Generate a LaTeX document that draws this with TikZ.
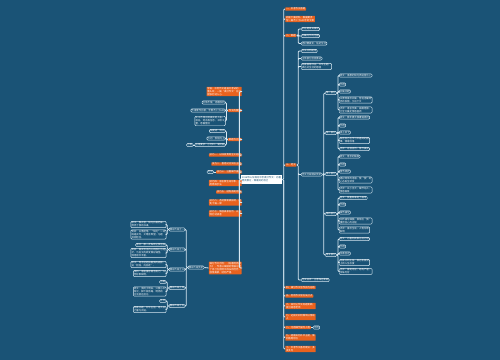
\documentclass[tikz,border=0pt]{standalone}
\usepackage{fontspec}
\newfontfamily\cjk{Noto Sans CJK SC}
\usepackage{tikz}
\definecolor{mmbg}{RGB}{26,83,118}
\definecolor{mmorange}{RGB}{232,98,30}
\definecolor{mmline}{RGB}{215,232,242}

\begin{document}
\begin{tikzpicture}[x=0.75pt,y=-0.75pt,
 every node/.style={font=\cjk\fontsize{1.8}{2.3}\selectfont,align=left,inner xsep=0.6pt,inner ysep=0.4pt},
 obox/.style={fill=mmorange,text=white,rounded corners=0.4pt},
 lbox/.style={draw=mmline,line width=0.35pt,fill=mmbg,text=white,rounded corners=0.8pt},
 topic/.style={fill=white,text=mmbg,inner xsep=1pt,inner ysep=1.1pt},
 link/.style={draw=mmline,line width=0.6pt,rounded corners=0.8pt}]
\fill[mmbg] (0,0) rectangle (500,360);
\useasboundingbox (0,0) rectangle (500,360);

\node[topic,anchor=east] (top) at (282.5,179.5) {2018年山东潍坊中考满分作文：向着\\明亮那方，做最好的自己};

% right side
\node[obox,anchor=west] (r1) at (285,9) {一、中考作文原题};
\node[obox,anchor=west] (r2) at (285,19) {阅读下面材料，根据要求\\写一篇不少于600字的文章};
\node[obox,anchor=west] (r3) at (285,35.5) {二、审题};
\node[lbox,anchor=west] (r3a) at (301,29) {抓住题目关键词};
\node[lbox,anchor=west] (r3b) at (301,36) {明确写作的范围};
\node[lbox,anchor=west] (r3c) at (301,43.5) {选材要真实，贴近生活};
\node[obox,anchor=west] (r4) at (285,165) {三、范文};
\node[lbox,anchor=west] (r4a) at (301,51) {开头点明题意};
\node[lbox,anchor=west] (r4b) at (301,58.5) {主体部分层层推进};
\node[lbox,anchor=west] (r4c) at (301,66.5) {结尾首尾呼应，升华主题，\\表达对生活的感悟};
\node[lbox,anchor=west] (r4d) at (301,174.5) {范文分段精彩赏析};
\node[lbox,anchor=west] (r4e) at (301,280) {范文总评：立意深远新颖};

\node[lbox,anchor=west] (p1) at (325,93) {第一部分};
\node[lbox,anchor=west] (p1a) at (339,75.5) {原文：清晨的阳光洒进窗台上};
\node[lbox,anchor=west] (p1b) at (339,84.5) {作用};
\node[lbox,anchor=west] (p1c) at (339,91.5) {开篇点题};
\node[lbox,anchor=west] (p1d) at (339,100) {以景物描写开篇，营造温暖明\\亮的氛围，引出下文};
\node[lbox,anchor=west] (p1e) at (339,110) {点评：语言优美，画面感强，\\为全文奠定情感基调};

\node[lbox,anchor=west] (p2) at (325,133) {第二部分};
\node[lbox,anchor=west] (p2a) at (339,117.5) {原文：那年夏天我遭遇挫折};
\node[lbox,anchor=west] (p2b) at (339,125.5) {作用};
\node[lbox,anchor=west] (p2c) at (339,132.5) {承上启下};
\node[lbox,anchor=west] (p2d) at (339,140.5) {叙述自己在学习中遇到的困\\难，情绪低落};
\node[lbox,anchor=west] (p2e) at (339,149) {点评：过渡自然，情节真实};

\node[lbox,anchor=west] (p3) at (325,174) {第三部分};
\node[lbox,anchor=west] (p3a) at (339,156.5) {原文：母亲的鼓励};
\node[lbox,anchor=west] (p3b) at (339,164.5) {作用};
\node[lbox,anchor=west] (p3c) at (339,171.5) {情节转折};
\node[lbox,anchor=west] (p3d) at (339,180) {通过母亲的话语，使“我”的\\心态发生转变};
\node[lbox,anchor=west] (p3e) at (339,190) {点评：以小见大，细节动人，\\情感真挚};

\node[lbox,anchor=west] (p4) at (325,214) {第四部分};
\node[lbox,anchor=west] (p4a) at (339,198) {原文：我重新拿起了画笔};
\node[lbox,anchor=west] (p4b) at (339,204.5) {作用};
\node[lbox,anchor=west] (p4c) at (339,212.5) {细节描写};
\node[lbox,anchor=west] (p4d) at (339,221) {动作描写细腻，表现出“我”\\重拾信心的过程};
\node[lbox,anchor=west] (p4e) at (339,230) {点评：描写生动，人物形象\\鲜明};

\node[lbox,anchor=west] (p5) at (325,255) {第五部分};
\node[lbox,anchor=west] (p5a) at (339,239) {原文：向着明亮那方前行吧};
\node[lbox,anchor=west] (p5b) at (339,246.5) {作用};
\node[lbox,anchor=west] (p5c) at (339,253.5) {卒章显志};
\node[lbox,anchor=west] (p5d) at (339,262.5) {结尾点明主旨，表达积极向\\上的人生态度};
\node[lbox,anchor=west] (p5e) at (339,271.5) {点评：首尾呼应，结构严谨，\\余味无穷};

\node[obox,anchor=west] (r5) at (285,287.5) {四、满分作文写作技巧总结};
\node[obox,anchor=west] (r6) at (285,296) {五、考场作文常见失分点};
\node[obox,anchor=west] (r7) at (285,306) {六、如何让作文标题新颖，\\吸引阅卷老师};
\node[obox,anchor=west] (r8) at (285,317) {七、记叙文如何做到以情动\\人};
\node[obox,anchor=west] (r9) at (285,327.5) {八、巧用细节描写人物};
\node[lbox,anchor=west] (r9a) at (313,327.5) {范例};
\node[obox,anchor=west] (r10) at (285,337.5) {九、结尾如何升华主题，做\\到首尾呼应};
\node[obox,anchor=west] (r11) at (285,349) {十、中考作文备考建议：多\\读多写};

% left side
\node[obox,anchor=east] (l1) at (242,91.5) {导语：中考作文是语文考试的\\重头戏，一篇“满分作文”往往\\能够打动人心。};
\node[obox,anchor=east] (l2) at (242,110.5) {作文的要求};
\node[lbox,anchor=east] (l2a) at (225.5,102.5) {文体不限，诗歌除外};
\node[lbox,anchor=east] (l2b) at (225.5,110.5) {不得套作抄袭，字数不少于600};
\node[lbox,anchor=east] (l2c) at (225.5,121) {文中不得出现真实的人名、\\校名、地名等信息，书写工\\整，卷面整洁};
\node[obox,anchor=east] (l3) at (242,139.5) {审题与立意};
\node[lbox,anchor=east] (l3a) at (225.5,131) {关键词：明亮};
\node[lbox,anchor=east] (l3b) at (225.5,138.5) {方向：积极向上};
\node[lbox,anchor=east] (l3c) at (225.5,145) {立意要求：小切口，深挖掘};
\node[lbox,anchor=east] (l3d) at (193.3,145) {示例};
\node[obox,anchor=east] (l4) at (242,155) {技巧一：以线索贯穿全文始终};
\node[obox,anchor=east] (l5) at (242,164) {技巧二：善用对比突出主题};
\node[obox,anchor=east] (l6) at (242,172) {技巧三：注重细节描写};
\node[lbox,anchor=east] (l6a) at (213.8,172) {范例};
\node[obox,anchor=east] (l7) at (242,183) {技巧四：语言要生动形象，多\\用修辞手法};
\node[obox,anchor=east] (l8) at (242,192) {技巧五：结构首尾呼应};
\node[obox,anchor=east] (l9) at (242,202.5) {技巧六：选材要新颖独特，避\\免千篇一律};
\node[obox,anchor=east] (l10) at (242,213.5) {技巧七：情感真挚自然，以真\\情打动读者};
\node[obox,anchor=east] (l11) at (242,268) {满分作文示例：《向着明亮那\\方》，作者以细腻的笔触记录\\了自己在困境中成长的经历，\\感情真挚，结构严谨。};
\node[lbox,anchor=east] (l11a) at (204.3,267.5) {精彩片段赏析};

\node[lbox,anchor=east] (q1) at (185.3,229.5) {精彩片段之一};
\node[lbox,anchor=east] (q1a) at (166.3,224.5) {原文：推开窗，阳光扑面而来，\\照亮了我的书桌。};
\node[lbox,anchor=east] (q1b) at (166.3,234.5) {赏析：以景起笔，“阳光”一词\\既是实写，又暗含希望，与题\\目相呼应。};
\node[lbox,anchor=east] (q2) at (185.3,249.5) {精彩片段之二};
\node[lbox,anchor=east] (q2a) at (166.3,245) {原文：那一次失败让我沮丧};
\node[lbox,anchor=east] (q2b) at (166.3,253) {赏析：真实写出内心的挣扎与迷\\茫，为后文的转变做好铺垫，\\情感层次丰富。};
\node[lbox,anchor=east] (q3) at (185.3,269.5) {精彩片段之三};
\node[lbox,anchor=east] (q3a) at (166.3,264.5) {原文：母亲轻轻拍着我的肩膀，\\说“别怕，向前走”。};
\node[lbox,anchor=east] (q3b) at (166.3,273.5) {赏析：语言描写简洁有力，人\\物形象鲜明。};
\node[lbox,anchor=east] (q4) at (185.3,288) {精彩片段之四};
\node[lbox,anchor=east] (q4a) at (166.3,282) {点题};
\node[lbox,anchor=east] (q4b) at (166.3,291.5) {原文：我终于明白，只要心中\\有光，脚下就有路，明亮的\\方向就在前方。};
\node[lbox,anchor=east] (q5) at (185.3,306) {精彩片段之五};
\node[lbox,anchor=east] (q5a) at (166.3,301) {升华};
\node[lbox,anchor=east] (q5b) at (166.3,309.5) {结尾点题，升华主旨，给人以\\力量与启迪。};

% connectors
\draw[link] (top.east) -- ++(1.2,0) |- (r1.west) (top.east) -- ++(1.2,0) |- (r2.west) (top.east) -- ++(1.2,0) |- (r3.west) (top.east) -- ++(1.2,0) |- (r4.west);
\draw[link] (top.east) -- ++(1.2,0) |- (r5.west) (top.east) -- ++(1.2,0) |- (r6.west) (top.east) -- ++(1.2,0) |- (r7.west) (top.east) -- ++(1.2,0) |- (r8.west);
\draw[link] (top.east) -- ++(1.2,0) |- (r9.west) (top.east) -- ++(1.2,0) |- (r10.west) (top.east) -- ++(1.2,0) |- (r11.west);
\draw[link] (r9.east) -- (r9a.west);
\draw[link] (r3.east) -- ++(1.5,0) |- (r3a.west) (r3.east) -- ++(1.5,0) |- (r3b.west) (r3.east) -- ++(1.5,0) |- (r3c.west);
\draw[link] (r4.east) -- ++(1.5,0) |- (r4a.west) (r4.east) -- ++(1.5,0) |- (r4b.west) (r4.east) -- ++(1.5,0) |- (r4c.west) (r4.east) -- ++(1.5,0) |- (r4d.west) (r4.east) -- ++(1.5,0) |- (r4e.west);
\draw[link] (r4d.east) -- ++(1.5,0) |- (p1.west) (r4d.east) -- ++(1.5,0) |- (p2.west) (r4d.east) -- ++(1.5,0) |- (p3.west) (r4d.east) -- ++(1.5,0) |- (p4.west) (r4d.east) -- ++(1.5,0) |- (p5.west);
\draw[link] (p1.east) -- ++(1.3,0) |- (p1a.west) (p1.east) -- ++(1.3,0) |- (p1b.west) (p1.east) -- ++(1.3,0) |- (p1c.west) (p1.east) -- ++(1.3,0) |- (p1d.west) (p1.east) -- ++(1.3,0) |- (p1e.west);
\draw[link] (p2.east) -- ++(1.3,0) |- (p2a.west) (p2.east) -- ++(1.3,0) |- (p2b.west) (p2.east) -- ++(1.3,0) |- (p2c.west) (p2.east) -- ++(1.3,0) |- (p2d.west) (p2.east) -- ++(1.3,0) |- (p2e.west);
\draw[link] (p3.east) -- ++(1.3,0) |- (p3a.west) (p3.east) -- ++(1.3,0) |- (p3b.west) (p3.east) -- ++(1.3,0) |- (p3c.west) (p3.east) -- ++(1.3,0) |- (p3d.west) (p3.east) -- ++(1.3,0) |- (p3e.west);
\draw[link] (p4.east) -- ++(1.3,0) |- (p4a.west) (p4.east) -- ++(1.3,0) |- (p4b.west) (p4.east) -- ++(1.3,0) |- (p4c.west) (p4.east) -- ++(1.3,0) |- (p4d.west) (p4.east) -- ++(1.3,0) |- (p4e.west);
\draw[link] (p5.east) -- ++(1.3,0) |- (p5a.west) (p5.east) -- ++(1.3,0) |- (p5b.west) (p5.east) -- ++(1.3,0) |- (p5c.west) (p5.east) -- ++(1.3,0) |- (p5d.west) (p5.east) -- ++(1.3,0) |- (p5e.west);

\draw[link] (top.west) -- ++(-1,0) |- (l1.east) (top.west) -- ++(-1,0) |- (l2.east) (top.west) -- ++(-1,0) |- (l3.east) (top.west) -- ++(-1,0) |- (l4.east);
\draw[link] (top.west) -- ++(-1,0) |- (l5.east) (top.west) -- ++(-1,0) |- (l6.east) (top.west) -- ++(-1,0) |- (l7.east) (top.west) -- ++(-1,0) |- (l8.east);
\draw[link] (top.west) -- ++(-1,0) |- (l9.east) (top.west) -- ++(-1,0) |- (l10.east) (top.west) -- ++(-1,0) |- (l11.east);
\draw[link] (l2.west) -- ++(-1.4,0) |- (l2a.east) (l2.west) -- ++(-1.4,0) |- (l2b.east) (l2.west) -- ++(-1.4,0) |- (l2c.east);
\draw[link] (l3.west) -- ++(-1.4,0) |- (l3a.east) (l3.west) -- ++(-1.4,0) |- (l3b.east) (l3.west) -- ++(-1.4,0) |- (l3c.east);
\draw[link] (l3c.west) -- (l3d.east);
\draw[link] (l6.west) -- (l6a.east);
\draw[link] (l11.west) -- (l11a.east);
\draw[link] (l11a.west) -- ++(-1.5,0) |- (q1.east) (l11a.west) -- ++(-1.5,0) |- (q2.east) (l11a.west) -- ++(-1.5,0) |- (q3.east) (l11a.west) -- ++(-1.5,0) |- (q4.east) (l11a.west) -- ++(-1.5,0) |- (q5.east);
\draw[link] (q1.west) -- ++(-1.5,0) |- (q1a.east) (q1.west) -- ++(-1.5,0) |- (q1b.east);
\draw[link] (q2.west) -- ++(-1.5,0) |- (q2a.east) (q2.west) -- ++(-1.5,0) |- (q2b.east);
\draw[link] (q3.west) -- ++(-1.5,0) |- (q3a.east) (q3.west) -- ++(-1.5,0) |- (q3b.east);
\draw[link] (q4.west) -- ++(-1.5,0) |- (q4a.east) (q4.west) -- ++(-1.5,0) |- (q4b.east);
\draw[link] (q5.west) -- ++(-1.5,0) |- (q5a.east) (q5.west) -- ++(-1.5,0) |- (q5b.east);

\end{tikzpicture}
\end{document}
